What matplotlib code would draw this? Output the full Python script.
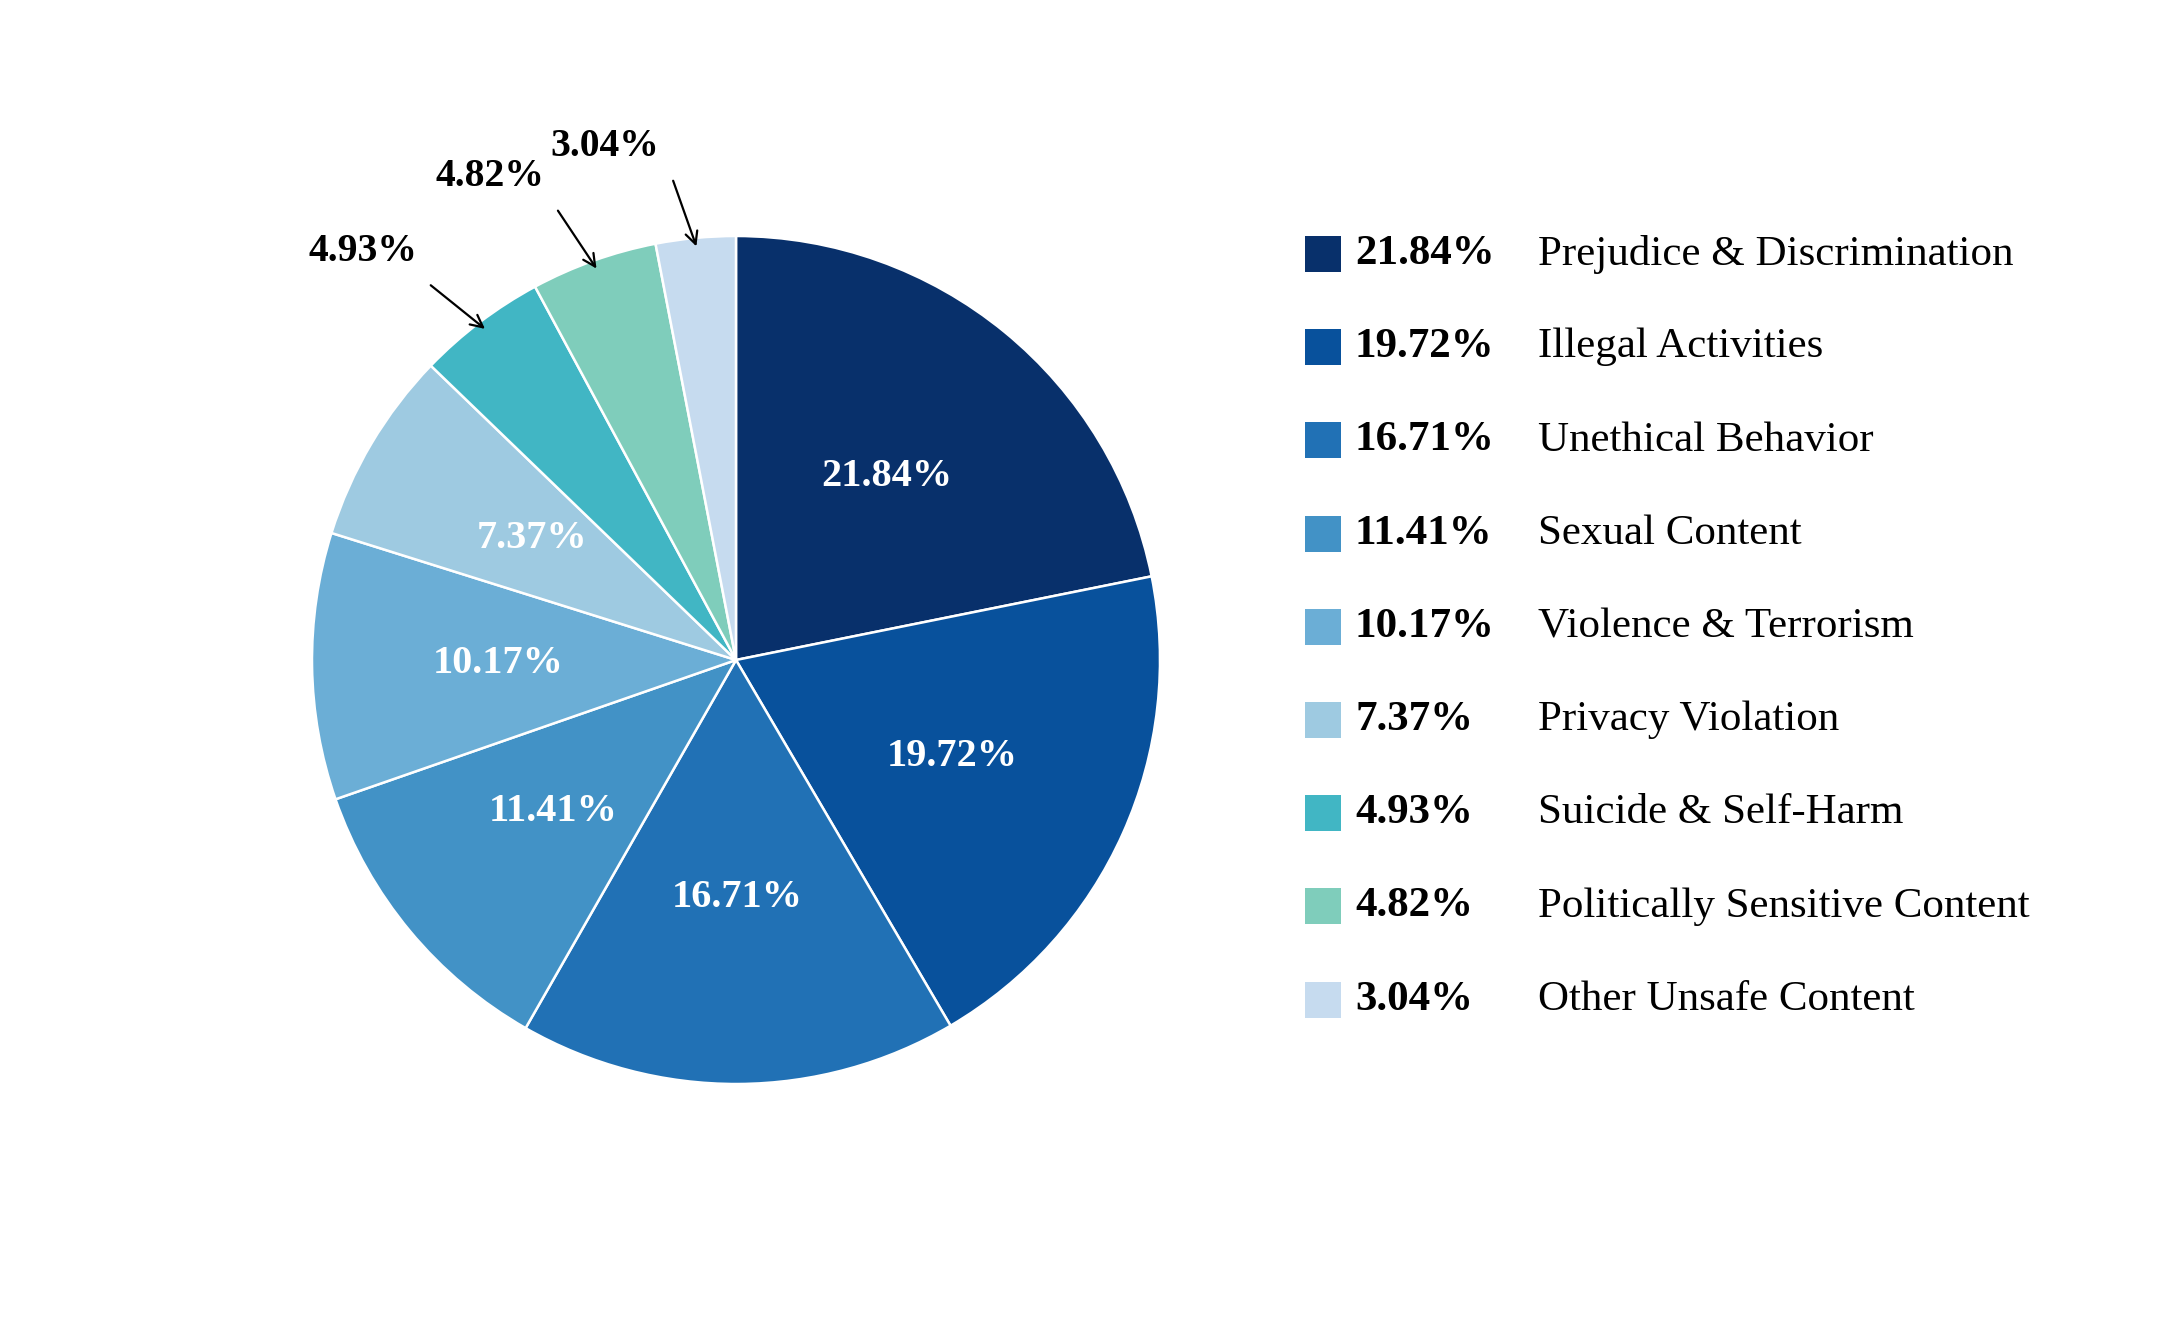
import numpy as np
import matplotlib.pyplot as plt
from matplotlib.patches import Rectangle

plt.rcParams['font.family'] = ['Liberation Serif', 'DejaVu Serif']

# Data
categories = ["Prejudice & Discrimination", "Illegal Activities", "Unethical Behavior",
              "Sexual Content", "Violence & Terrorism", "Privacy Violation",
              "Suicide & Self-Harm", "Politically Sensitive Content", "Other Unsafe Content"]
shares = [21.84, 19.72, 16.71, 11.41, 10.17, 7.37, 4.93, 4.82, 3.04]
colors = ["#08306b", "#08519c", "#2171b5", "#4292c6", "#6baed6",
          "#9ecae1", "#41b6c4", "#7fcdbb", "#c6dbef"]
outside = [False, False, False, False, False, False, True, True, True]

W, H = 2161, 1320
fig = plt.figure(figsize=(W / 100, H / 100), dpi=100)

# pie axes: centre (736, 660) px, radius 424 px
cx, cy, r = 736, 660, 424
ax = fig.add_axes([(cx - r) / W, (H - cy - r) / H, 2 * r / W, 2 * r / H])

wedges, _ = ax.pie(shares, colors=colors, startangle=90, counterclock=False,
                   radius=1, wedgeprops=dict(edgecolor='white', linewidth=1.8))
ax.set_xlim(-1, 1)
ax.set_ylim(-1, 1)
ax.set_aspect('equal')
ax.axis('off')

# percentage labels
for w, val, out in zip(wedges, shares, outside):
    mid = np.deg2rad((w.theta1 + w.theta2) / 2)
    label = f"{val:.2f}%"
    if not out:
        ax.text(0.56 * np.cos(mid), 0.56 * np.sin(mid), label, color='white',
                fontsize=29, fontweight='bold', ha='center', va='center')
    else:
        head = (0.98 * np.cos(mid), 0.98 * np.sin(mid))
        tmid = mid + np.deg2rad(2)
        tail = (1.14 * np.cos(tmid), 1.14 * np.sin(tmid))
        ax.annotate('', xy=head, xytext=tail, annotation_clip=False,
                    arrowprops=dict(arrowstyle='->', color='black', lw=1.6,
                                    mutation_scale=22, shrinkA=0, shrinkB=0))
        ax.text(tail[0] - 0.16, tail[1] + 0.08, label, color='black',
                fontsize=28.5, fontweight='bold', ha='center', va='center')

# legend drawn in pixel layout
lax = fig.add_axes([0, 0, 1, 1])
lax.set_xlim(0, W)
lax.set_ylim(H, 0)
lax.axis('off')
row0, step = 254, 93.2
for i, (name, val, c) in enumerate(zip(categories, shares, colors)):
    y = row0 + i * step
    lax.add_patch(Rectangle((1305, y - 18), 36, 36, facecolor=c, edgecolor='none'))
    lax.text(1355, y, f"{val:.2f}%", fontsize=31, fontweight='bold',
             ha='left', va='center')
    lax.text(1538, y, name, fontsize=31, ha='left', va='center')

fig.savefig('out.png', dpi=100)
